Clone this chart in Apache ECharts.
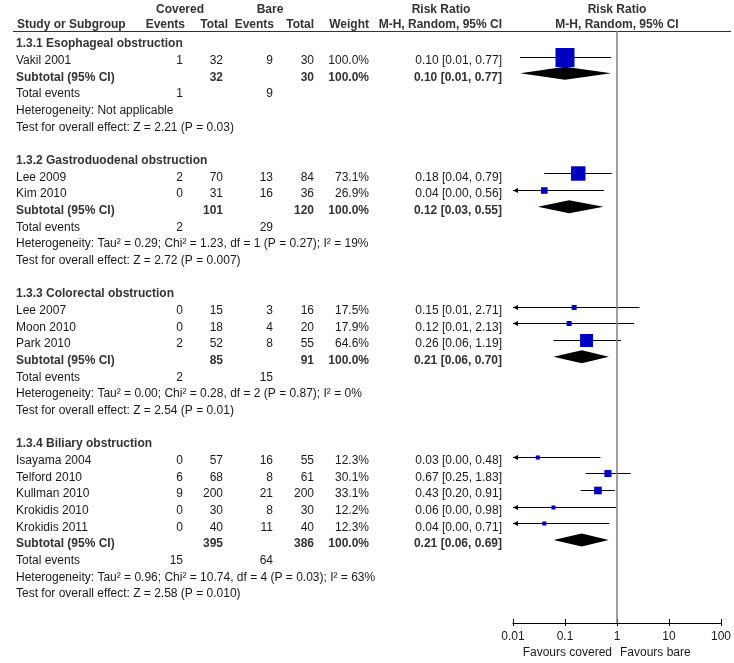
<!DOCTYPE html>
<html><head><meta charset="utf-8">
<script src="https://cdn.jsdelivr.net/npm/echarts@6/dist/echarts.min.js"></script>
<style>html,body{margin:0;padding:0;background:#fff}#c{width:734px;height:663px}</style>
</head><body><div id="c"></div>
<script>
// ---- data ----
const groupNames = ['1.3.1 Esophageal obstruction', '1.3.2 Gastroduodenal obstruction', '1.3.3 Colorectal obstruction', '1.3.4 Biliary obstruction'];
const studyNames = ['Vakil 2001', 'Lee 2009', 'Kim 2010', 'Lee 2007', 'Moon 2010', 'Park 2010', 'Isayama 2004', 'Telford 2010', 'Kullman 2010', 'Krokidis 2010', 'Krokidis 2011'];
const studyGroup = [0, 1, 1, 2, 2, 2, 3, 3, 3, 3, 3];
const covEvents = [1, 2, 0, 0, 0, 2, 0, 6, 9, 0, 0];
const covTotal = [32, 70, 31, 15, 18, 52, 57, 68, 200, 30, 40];
const bareEvents = [9, 13, 16, 3, 4, 8, 16, 8, 21, 8, 11];
const bareTotal = [30, 84, 36, 16, 20, 55, 55, 61, 200, 30, 40];
const weights = [100.0, 73.1, 26.9, 17.5, 17.9, 64.6, 12.3, 30.1, 33.1, 12.2, 12.3];
const rr = [0.10, 0.18, 0.04, 0.15, 0.12, 0.26, 0.03, 0.67, 0.43, 0.06, 0.04];
const rrLo = [0.0137, 0.04, 0.003, 0.008, 0.007, 0.06, 0.002, 0.25, 0.20, 0.004, 0.002];
const rrHi = [0.77, 0.79, 0.56, 2.71, 2.13, 1.19, 0.48, 1.83, 0.91, 0.98, 0.71];
const subCovTotal = [32, 101, 85, 395];
const subBareTotal = [30, 120, 91, 386];
const subWeight = [100.0, 100.0, 100.0, 100.0];
const subRR = [0.10, 0.12, 0.21, 0.21];
const subLo = [0.0137, 0.03, 0.06, 0.06];
const subHi = [0.77, 0.55, 0.70, 0.69];
const totCovEvents = [1, 2, 2, 15];
const totBareEvents = [9, 29, 15, 64];
const heterogeneity = [
  'Heterogeneity: Not applicable',
  'Heterogeneity: Tau\u00b2 = 0.29; Chi\u00b2 = 1.23, df = 1 (P = 0.27); I\u00b2 = 19%',
  'Heterogeneity: Tau\u00b2 = 0.00; Chi\u00b2 = 0.28, df = 2 (P = 0.87); I\u00b2 = 0%',
  'Heterogeneity: Tau\u00b2 = 0.96; Chi\u00b2 = 10.74, df = 4 (P = 0.03); I\u00b2 = 63%'
];
const overallTest = [
  'Test for overall effect: Z = 2.21 (P = 0.03)',
  'Test for overall effect: Z = 2.72 (P = 0.007)',
  'Test for overall effect: Z = 2.54 (P = 0.01)',
  'Test for overall effect: Z = 2.58 (P = 0.010)'
];
const tickLabels = ['0.01', '0.1', '1', '10', '100'];
const favourLeft = 'Favours covered';
const favourRight = 'Favours bare';

// ---- layout / style ----
const FONT = '"Liberation Sans", Arial, Helvetica, sans-serif';
const FS = 12;
const NORMAL = FS + 'px ' + FONT;
const BOLD = 'bold ' + FS + 'px ' + FONT;
const TXT = '#1a1a1a';
const BTXT = '#333333';

const rows = [];
groupNames.forEach((g, gi) => {
  rows.push({ type: 'head', g: gi });
  studyNames.forEach((s, si) => { if (studyGroup[si] === gi) rows.push({ type: 'study', i: si }); });
  rows.push({ type: 'sub', g: gi });
  rows.push({ type: 'tot', g: gi });
  rows.push({ type: 'het', g: gi });
  rows.push({ type: 'test', g: gi });
  if (gi < groupNames.length - 1) rows.push({ type: 'blank' });
});

const fmt = v => v.toFixed(2);
const ciText = (a, b, c) => fmt(a) + ' [' + fmt(b) + ', ' + fmt(c) + ']';

const forestData = [];
const textData = [];
rows.forEach((row, r) => {
  textData.push([1, r, r]);
  if (row.type === 'study') forestData.push([rr[row.i], r, rrLo[row.i], rrHi[row.i], weights[row.i], 0]);
  if (row.type === 'sub') forestData.push([subRR[row.g], r, subLo[row.g], subHi[row.g], subWeight[row.g], 1]);
});

function txt(x, y, text, align, bold) {
  return { type: 'text', x: x, y: y, silent: true,
    style: { text: String(text), x: 0, y: 0, fill: bold ? BTXT : TXT, font: bold ? BOLD : NORMAL,
      align: align, textAlign: align, verticalAlign: 'middle', textVerticalAlign: 'middle' } };
}

const COL = { name: 16, ce: 183, ct: 223, be: 273, bt: 314, w: 369, ci: 502 };

function renderText(params, api) {
  const r = api.value(2);
  const row = rows[r];
  const y = api.coord([1, api.value(1)])[1] + 4;
  const ch = [];
  if (row.type === 'head') {
    ch.push(txt(COL.name, y, groupNames[row.g], 'left', true));
  } else if (row.type === 'study') {
    const i = row.i;
    ch.push(txt(COL.name, y, studyNames[i], 'left', false));
    ch.push(txt(COL.ce, y, covEvents[i], 'right', false));
    ch.push(txt(COL.ct, y, covTotal[i], 'right', false));
    ch.push(txt(COL.be, y, bareEvents[i], 'right', false));
    ch.push(txt(COL.bt, y, bareTotal[i], 'right', false));
    ch.push(txt(COL.w, y, weights[i].toFixed(1) + '%', 'right', false));
    ch.push(txt(COL.ci, y, ciText(rr[i], rrLo[i], rrHi[i]), 'right', false));
  } else if (row.type === 'sub') {
    const g = row.g;
    ch.push(txt(COL.name, y, 'Subtotal (95% CI)', 'left', true));
    ch.push(txt(COL.ct, y, subCovTotal[g], 'right', true));
    ch.push(txt(COL.bt, y, subBareTotal[g], 'right', true));
    ch.push(txt(COL.w, y, subWeight[g].toFixed(1) + '%', 'right', true));
    ch.push(txt(COL.ci, y, ciText(subRR[g], subLo[g], subHi[g]), 'right', true));
  } else if (row.type === 'tot') {
    ch.push(txt(COL.name, y, 'Total events', 'left', false));
    ch.push(txt(COL.ce, y, totCovEvents[row.g], 'right', false));
    ch.push(txt(COL.be, y, totBareEvents[row.g], 'right', false));
  } else if (row.type === 'het') {
    ch.push(txt(COL.name, y, heterogeneity[row.g], 'left', false));
  } else if (row.type === 'test') {
    ch.push(txt(COL.name, y, overallTest[row.g], 'left', false));
  }
  return { type: 'group', children: ch };
}

function renderForest(params, api) {
  const vRR = api.value(0), r = api.value(1), lo = api.value(2), hi = api.value(3), w = api.value(4), kind = api.value(5);
  const yc = api.coord([1, r])[1];
  const xMin = api.coord([0.01, r])[0], xMax = api.coord([100, r])[0];
  const px = v => Math.max(xMin, Math.min(xMax, api.coord([v, r])[0]));
  const xl = px(lo), xh = px(hi), xc = api.coord([vRR, r])[0];
  const ch = [];
  if (kind === 1) {
    ch.push({ type: 'polygon', shape: { points: [[xl, yc], [xc, yc - 6.5], [xh, yc], [xc, yc + 6.5]] }, style: { fill: '#000' } });
  } else {
    const y = Math.round(yc) + 0.5;
    ch.push({ type: 'line', shape: { x1: xl, y1: y, x2: xh, y2: y }, style: { stroke: '#000', lineWidth: 1 } });
    if (lo < 0.01) ch.push({ type: 'polygon', shape: { points: [[xMin, y], [xMin + 5, y - 2.5], [xMin + 5, y + 2.5]] }, style: { fill: '#000' } });
    if (hi > 100) ch.push({ type: 'polygon', shape: { points: [[xMax, y], [xMax - 5, y - 2.5], [xMax - 5, y + 2.5]] }, style: { fill: '#000' } });
    const s = 2 + 0.17 * w;
    ch.push({ type: 'rect', shape: { x: xc - s / 2, y: y - s / 2, width: s, height: s }, style: { fill: '#0000C0' } });
  }
  return { type: 'group', children: ch };
}

// ticks below the axis line (the axis itself draws the upper part)
function renderTickDown(params, api) {
  const p = api.coord([api.value(0), api.value(1)]);
  const x = Math.round(p[0]) + 0.5;
  return { type: 'line', shape: { x1: x, y1: p[1], x2: x, y2: p[1] + 3 }, style: { stroke: '#000', lineWidth: 1 } };
}

const gText = (x, y, text, align, bold) => ({ type: 'text', x: x, y: y, silent: true,
  style: { text: text, fill: bold ? BTXT : TXT, font: bold ? BOLD : NORMAL,
    align: align, textAlign: align, verticalAlign: 'middle', textVerticalAlign: 'middle' } });

const chart = echarts.init(document.getElementById('c'), null, { renderer: 'canvas' });
const PITCH = 16.667;
const TOP = 31, BOTTOM = 623;
const yMin = -(40 - TOP) / PITCH;
const yMax = yMin + (BOTTOM - TOP) / PITCH;

chart.setOption({
  animation: false,
  backgroundColor: '#fff',
  grid: { left: 513, width: 209, top: TOP, height: BOTTOM - TOP, containLabel: false },
  xAxis: {
    type: 'log', logBase: 10, min: 0.01, max: 100, interval: 1, position: 'bottom',
    axisLine: { show: true, onZero: false, lineStyle: { color: '#000', width: 1 } },
    axisTick: { show: true, inside: true, length: 4, lineStyle: { color: '#000', width: 1 } },
    axisLabel: { show: true, margin: 8, color: TXT, fontSize: FS, fontFamily: FONT,
      formatter: v => tickLabels[Math.round(Math.log10(v)) + 2] },
    splitLine: { show: false }
  },
  yAxis: { type: 'value', inverse: true, min: yMin, max: yMax, show: false },
  series: [
    { type: 'custom', name: 'text', data: textData, renderItem: renderText,
      encode: { x: 0, y: 1 }, clip: false, silent: true, z: 3 },
    { type: 'custom', name: 'forest', data: forestData, renderItem: renderForest,
      encode: { x: 0, y: 1 }, clip: false, silent: true, z: 4,
      markLine: { silent: true, symbol: 'none', label: { show: false },
        lineStyle: { color: '#808080', width: 1.5, type: 'solid' }, data: [{ xAxis: 1 }] } },
    { type: 'custom', name: 'ticks', data: tickLabels.map(t => [Number(t), yMax]), renderItem: renderTickDown,
      encode: { x: 0, y: 1 }, clip: false, silent: true, z: 5 }
  ],
  graphic: [
    gText(180, 10, 'Covered', 'center', true),
    gText(270, 10, 'Bare', 'center', true),
    gText(441, 10, 'Risk Ratio', 'center', true),
    gText(617, 10, 'Risk Ratio', 'center', true),
    gText(17, 25, 'Study or Subgroup', 'left', true),
    gText(185, 25, 'Events', 'right', true),
    gText(228, 25, 'Total', 'right', true),
    gText(274, 25, 'Events', 'right', true),
    gText(314, 25, 'Total', 'right', true),
    gText(369, 25, 'Weight', 'right', true),
    gText(502, 25, 'M-H, Random, 95% CI', 'right', true),
    gText(617, 25, 'M-H, Random, 95% CI', 'center', true),
    { type: 'line', silent: true, shape: { x1: 13, y1: 31.5, x2: 731, y2: 31.5 }, style: { stroke: '#333', lineWidth: 1.2 } },
    gText(612, 653, favourLeft, 'right', false),
    gText(620, 653, favourRight, 'left', false)
  ]
});
</script>
</body></html>
